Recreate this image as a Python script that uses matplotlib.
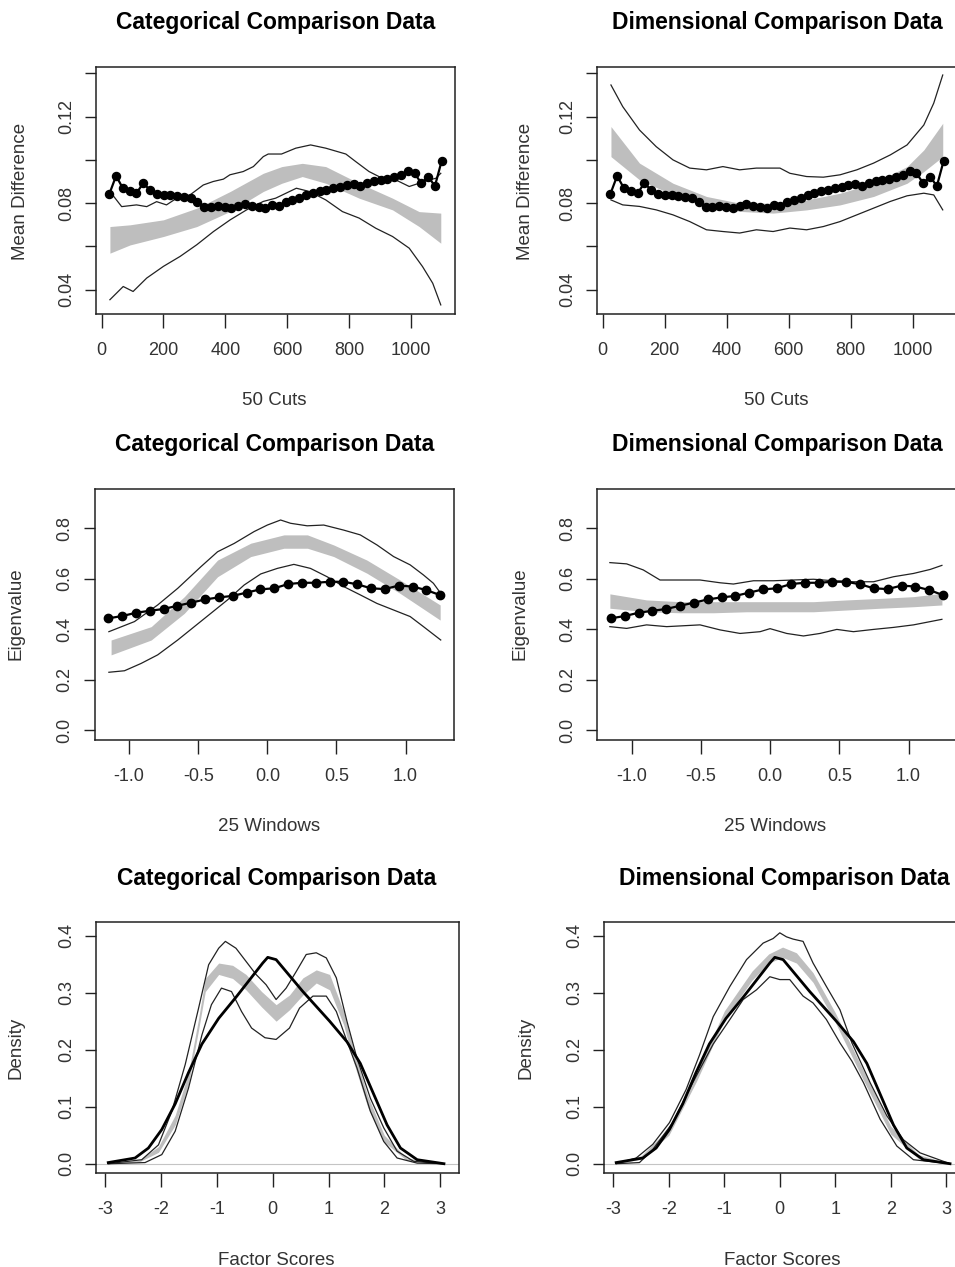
import matplotlib
matplotlib.use("Agg")
import matplotlib.pyplot as plt
import numpy as np

plt.rcParams["font.family"] = ["Liberation Sans", "DejaVu Sans"]
plt.rcParams["axes.unicode_minus"] = False

W, H = 955, 1267

# ---- row 1: mean difference over 50 cuts ----
cuts_x = np.linspace(25, 1100, 50)
cuts_obs = [0.0842, 0.0926, 0.0869, 0.0854, 0.0846, 0.0892, 0.0861, 0.0843, 0.0838, 0.0838,
            0.0835, 0.0830, 0.0823, 0.0807, 0.0784, 0.0784, 0.0788, 0.0781, 0.0777, 0.0788,
            0.0797, 0.0788, 0.0784, 0.0777, 0.0792, 0.0788, 0.0807, 0.0815, 0.0823, 0.0838,
            0.0846, 0.0854, 0.0861, 0.0869, 0.0873, 0.0884, 0.0889, 0.0879, 0.0892, 0.0904,
            0.0907, 0.0911, 0.0923, 0.0931, 0.0950, 0.0938, 0.0892, 0.0923, 0.0879, 0.0996]

cat_cut_hi_x = [27, 65, 113, 146, 178, 210, 243, 286, 329, 361, 394, 415, 458, 491, 523, 539,
                582, 628, 676, 725, 790, 822, 865, 908, 952, 995, 1027, 1059, 1081, 1097]
cat_cut_hi = [0.0854, 0.0784, 0.0792, 0.0784, 0.0807, 0.0792, 0.0823, 0.0838, 0.0884, 0.0900,
              0.0911, 0.0931, 0.0946, 0.0969, 0.1015, 0.1027, 0.1027, 0.1054, 0.1069, 0.1054,
              0.1027, 0.0992, 0.0946, 0.0915, 0.0907, 0.0877, 0.0892, 0.0907, 0.0915, 0.0938]
cat_cut_lo_x = [27, 70, 102, 146, 200, 254, 308, 362, 416, 469, 523, 563, 630, 672, 725,
                779, 833, 887, 941, 995, 1038, 1071, 1097]
cat_cut_lo = [0.0354, 0.0415, 0.0392, 0.0454, 0.0508, 0.0554, 0.0608, 0.0669, 0.0723, 0.0769,
              0.0808, 0.0823, 0.0869, 0.0854, 0.0815, 0.0761, 0.0731, 0.0684, 0.0646, 0.0592,
              0.0507, 0.0430, 0.0330]
cat_cut_band_x = [27, 92, 200, 308, 416, 523, 583, 649, 725, 833, 941, 1027, 1097]
cat_cut_band_hi = [0.0692, 0.0700, 0.0723, 0.0777, 0.0854, 0.0938, 0.0969, 0.0984, 0.0969,
                   0.0892, 0.0823, 0.0761, 0.0754]
cat_cut_band_lo = [0.0569, 0.0607, 0.0646, 0.0692, 0.0762, 0.0854, 0.0892, 0.0923, 0.0892,
                   0.0823, 0.0769, 0.0692, 0.0615]

dim_cut_hi_x = [27, 65, 119, 173, 227, 281, 335, 388, 442, 496, 572, 604, 658, 712, 766, 820,
                874, 928, 982, 1036, 1068, 1097]
dim_cut_hi = [0.1346, 0.1246, 0.1138, 0.1061, 0.1000, 0.0962, 0.0954, 0.0969, 0.0954, 0.0962,
              0.0962, 0.0938, 0.0923, 0.0920, 0.0931, 0.0954, 0.0985, 0.1023, 0.1069, 0.1161,
              0.1262, 0.1392]
dim_cut_lo_x = [27, 65, 119, 173, 227, 281, 335, 388, 442, 496, 550, 604, 658, 712, 766, 820,
                874, 928, 982, 1036, 1068, 1097]
dim_cut_lo = [0.0815, 0.0792, 0.0785, 0.0769, 0.0746, 0.0715, 0.0677, 0.0669, 0.0662, 0.0677,
              0.0669, 0.0685, 0.0677, 0.0692, 0.0715, 0.0746, 0.0777, 0.0808, 0.0834, 0.0846,
              0.0838, 0.0769]
dim_cut_band_x = [27, 119, 227, 335, 442, 550, 658, 766, 874, 982, 1036, 1097]
dim_cut_band_hi = [0.1154, 0.0985, 0.0892, 0.0831, 0.0800, 0.0800, 0.0815, 0.0846, 0.0892,
                   0.0969, 0.1046, 0.1169]
dim_cut_band_lo = [0.1015, 0.0908, 0.0838, 0.0792, 0.0762, 0.0754, 0.0769, 0.0792, 0.0831,
                   0.0892, 0.0946, 0.1015]

# ---- row 2: eigenvalue over 25 windows ----
win_x = np.linspace(-1.15, 1.25, 25)
win_obs = [0.443, 0.452, 0.465, 0.473, 0.480, 0.493, 0.505, 0.518, 0.526, 0.532, 0.545, 0.558,
           0.562, 0.579, 0.584, 0.584, 0.588, 0.588, 0.578, 0.562, 0.559, 0.573, 0.569, 0.555,
           0.535]

cat_win_hi_x = [-1.146, -0.961, -0.793, -0.648, -0.48, -0.36, -0.24, -0.096, 0.0, 0.096, 0.168,
                0.288, 0.408, 0.552, 0.672, 0.793, 0.913, 1.033, 1.129, 1.201, 1.254]
cat_win_hi = [0.390, 0.430, 0.496, 0.562, 0.648, 0.707, 0.740, 0.787, 0.813, 0.833, 0.820,
              0.810, 0.813, 0.793, 0.774, 0.734, 0.688, 0.655, 0.615, 0.582, 0.542]
cat_win_lo_x = [-1.146, -1.033, -0.913, -0.793, -0.648, -0.528, -0.408, -0.288, -0.168, -0.048,
                0.072, 0.192, 0.312, 0.432, 0.552, 0.672, 0.793, 0.913, 1.033, 1.129, 1.254]
cat_win_lo = [0.229, 0.235, 0.264, 0.298, 0.357, 0.410, 0.463, 0.516, 0.575, 0.619, 0.641,
              0.657, 0.641, 0.608, 0.569, 0.536, 0.502, 0.476, 0.450, 0.410, 0.357]
cat_win_band_x = [-1.13, -0.84, -0.60, -0.36, -0.12, 0.12, 0.29, 0.48, 0.72, 0.96, 1.25]
cat_win_band_hi = [0.357, 0.410, 0.529, 0.674, 0.741, 0.774, 0.774, 0.734, 0.674, 0.595, 0.496]
cat_win_band_lo = [0.298, 0.357, 0.463, 0.608, 0.688, 0.721, 0.721, 0.688, 0.622, 0.542, 0.436]

dim_win_hi_x = [-1.157, -1.036, -0.916, -0.795, -0.65, -0.506, -0.361, -0.265, -0.12, 0.024,
                0.169, 0.313, 0.458, 0.602, 0.747, 0.892, 1.036, 1.157, 1.241]
dim_win_hi = [0.664, 0.659, 0.635, 0.595, 0.595, 0.595, 0.584, 0.579, 0.592, 0.592, 0.595,
              0.598, 0.592, 0.588, 0.588, 0.608, 0.621, 0.637, 0.653]
dim_win_lo_x = [-1.157, -1.036, -0.892, -0.747, -0.506, -0.361, -0.217, -0.072, 0.0, 0.120,
                0.241, 0.361, 0.482, 0.602, 0.747, 0.892, 1.036, 1.157, 1.241]
dim_win_lo = [0.410, 0.403, 0.417, 0.410, 0.417, 0.397, 0.383, 0.390, 0.402, 0.383, 0.373,
              0.383, 0.399, 0.390, 0.399, 0.407, 0.417, 0.430, 0.439]
dim_win_band_x = [-1.157, -0.892, -0.65, -0.41, -0.169, 0.072, 0.313, 0.554, 0.795, 1.036, 1.241]
dim_win_band_hi = [0.540, 0.516, 0.509, 0.509, 0.509, 0.509, 0.509, 0.516, 0.522, 0.529, 0.542]
dim_win_band_lo = [0.483, 0.469, 0.465, 0.465, 0.469, 0.469, 0.469, 0.476, 0.483, 0.489, 0.496]

# ---- row 3: density of factor scores ----
dens_x = [-2.95, -2.47, -2.23, -1.99, -1.75, -1.51, -1.27, -0.97, -0.66, -0.42, -0.18, -0.09,
          0.06, 0.3, 0.54, 0.78, 1.02, 1.33, 1.57, 1.81, 2.05, 2.29, 2.59, 3.07]
dens_obs = [0.002, 0.010, 0.0275, 0.060, 0.105, 0.160, 0.210, 0.255, 0.292, 0.322, 0.352,
            0.362, 0.358, 0.330, 0.302, 0.276, 0.250, 0.214, 0.176, 0.122, 0.068, 0.0275,
            0.007, 0.0]

cat_den_hi_x = [-2.95, -2.35, -2.05, -1.81, -1.57, -1.33, -1.15, -0.97, -0.85, -0.66, -0.48,
                -0.30, -0.12, 0.06, 0.24, 0.42, 0.60, 0.78, 0.96, 1.14, 1.33, 1.51, 1.75, 1.99,
                2.23, 2.53, 3.07]
cat_den_hi = [0.0, 0.007, 0.033, 0.092, 0.174, 0.273, 0.349, 0.378, 0.390, 0.378, 0.355, 0.332,
              0.314, 0.288, 0.308, 0.337, 0.367, 0.370, 0.361, 0.326, 0.250, 0.185, 0.115,
              0.063, 0.022, 0.004, 0.0]
cat_den_lo_x = [-2.95, -2.29, -1.99, -1.75, -1.51, -1.27, -1.10, -0.92, -0.74, -0.56, -0.38,
                -0.14, 0.06, 0.30, 0.48, 0.72, 0.96, 1.14, 1.33, 1.51, 1.75, 1.99, 2.23, 2.59,
                3.07]
cat_den_lo = [0.0, 0.002, 0.016, 0.057, 0.133, 0.226, 0.279, 0.308, 0.302, 0.267, 0.238, 0.221,
              0.218, 0.238, 0.273, 0.294, 0.294, 0.267, 0.215, 0.168, 0.092, 0.039, 0.010,
              0.001, 0.0]
cat_den_band_x = [-2.95, -2.4, -2.05, -1.75, -1.51, -1.33, -1.21, -0.97, -0.72, -0.48, -0.2,
                  0.06, 0.3, 0.54, 0.78, 1.02, 1.27, 1.45, 1.7, 2.0, 2.4, 3.07]
cat_den_band_hi = [0.0, 0.006, 0.030, 0.085, 0.160, 0.255, 0.325, 0.352, 0.348, 0.332, 0.302,
                   0.279, 0.296, 0.326, 0.340, 0.332, 0.267, 0.200, 0.120, 0.050, 0.010, 0.0]
cat_den_band_lo = [0.0, 0.003, 0.020, 0.068, 0.140, 0.235, 0.302, 0.332, 0.325, 0.305, 0.275,
                   0.250, 0.270, 0.296, 0.317, 0.305, 0.244, 0.178, 0.100, 0.038, 0.006, 0.0]

dim_den_hi_x = [-2.95, -2.59, -2.29, -1.99, -1.69, -1.45, -1.2, -0.9, -0.6, -0.3, -0.12, 0.0,
                0.12, 0.24, 0.42, 0.6, 0.84, 1.085, 1.3, 1.63, 1.93, 2.23, 2.53, 3.07]
dim_den_hi = [0.0, 0.010, 0.034, 0.072, 0.130, 0.190, 0.258, 0.311, 0.358, 0.387, 0.395, 0.405,
              0.398, 0.394, 0.390, 0.352, 0.311, 0.270, 0.212, 0.142, 0.084, 0.042, 0.019, 0.0]
dim_den_lo_x = [-2.95, -2.53, -2.29, -1.93, -1.57, -1.2, -0.9, -0.66, -0.42, -0.18, 0.0, 0.18,
                0.42, 0.6, 0.84, 1.085, 1.3, 1.51, 1.81, 2.11, 2.41, 3.07]
dim_den_lo = [0.0, 0.002, 0.025, 0.072, 0.142, 0.210, 0.253, 0.288, 0.305, 0.328, 0.323, 0.323,
              0.294, 0.282, 0.253, 0.212, 0.180, 0.142, 0.078, 0.031, 0.007, 0.0]
dim_den_band_x = [-2.95, -2.5, -2.0, -1.5, -1.0, -0.5, -0.2, 0.05, 0.3, 0.6, 1.0, 1.5, 2.0, 2.5,
                  3.07]
dim_den_band_hi = [0.0, 0.014, 0.062, 0.160, 0.268, 0.338, 0.368, 0.380, 0.370, 0.335, 0.265,
                   0.165, 0.066, 0.016, 0.0]
dim_den_band_lo = [0.0, 0.008, 0.050, 0.145, 0.252, 0.322, 0.352, 0.362, 0.352, 0.318, 0.248,
                   0.148, 0.052, 0.009, 0.0]

titles = ["Categorical Comparison Data", "Dimensional Comparison Data"]
GRAY = "#bebebe"
INK = "#222222"
TXT = "#333333"

fig = plt.figure(figsize=(W / 100, H / 100), dpi=100)


def add_panel(left, right, top, bottom):
    ax = fig.add_axes([left / W, 1 - bottom / H, (right - left) / W, (bottom - top) / H])
    for s in ax.spines.values():
        s.set_color(INK)
        s.set_linewidth(1.1)
    ax.tick_params(axis="x", direction="out", length=10, width=1, color=INK,
                   pad=10, labelsize=13, labelcolor=TXT)
    ax.tick_params(axis="y", direction="out", length=8, width=1, color=INK,
                   pad=7, labelsize=13, labelcolor=TXT, labelrotation=90)
    return ax


def px_text(x, y, s, **kw):
    fig.text(x / W, 1 - y / H, s, **kw)


def envelope(ax, bx, blo, bhi, lx, lo, hx, hi):
    ax.fill_between(bx, blo, bhi, color=GRAY, lw=0, zorder=1)
    ax.plot(lx, lo, color=INK, lw=0.9, zorder=2)
    ax.plot(hx, hi, color=INK, lw=0.9, zorder=2)


# row 1
boxes1 = [(96, 455, 67, 314), (597, 957, 67, 314)]
env1 = [(cat_cut_band_x, cat_cut_band_lo, cat_cut_band_hi, cat_cut_lo_x, cat_cut_lo,
         cat_cut_hi_x, cat_cut_hi),
        (dim_cut_band_x, dim_cut_band_lo, dim_cut_band_hi, dim_cut_lo_x, dim_cut_lo,
         dim_cut_hi_x, dim_cut_hi)]
for box, env in zip(boxes1, env1):
    ax = add_panel(*box)
    envelope(ax, *env)
    ax.plot(cuts_x, cuts_obs, color="black", lw=1.6, marker="o", ms=5.8, zorder=3)
    ax.set_xlim(-18, 1143)
    ax.set_ylim(0.0288, 0.1429)
    ax.set_xticks([0, 200, 400, 600, 800, 1000])
    ax.set_yticks([0.04, 0.06, 0.08, 0.10, 0.12, 0.14])
    ax.set_yticklabels(["0.04", "", "0.08", "", "0.12", ""], va="center")

# row 2
boxes2 = [(94.5, 454, 489, 740), (597, 957, 489, 740)]
env2 = [(cat_win_band_x, cat_win_band_lo, cat_win_band_hi, cat_win_lo_x, cat_win_lo,
         cat_win_hi_x, cat_win_hi),
        (dim_win_band_x, dim_win_band_lo, dim_win_band_hi, dim_win_lo_x, dim_win_lo,
         dim_win_hi_x, dim_win_hi)]
for box, env in zip(boxes2, env2):
    ax = add_panel(*box)
    envelope(ax, *env)
    ax.plot(win_x, win_obs, color="black", lw=1.6, marker="o", ms=6, zorder=3)
    ax.set_xlim(-1.25, 1.35)
    ax.set_ylim(-0.0397, 0.956)
    ax.set_xticks([-1.0, -0.5, 0.0, 0.5, 1.0])
    ax.set_xticklabels(["-1.0", "-0.5", "0.0", "0.5", "1.0"])
    ax.set_yticks([0.0, 0.2, 0.4, 0.6, 0.8])
    ax.set_yticklabels(["0.0", "0.2", "0.4", "0.6", "0.8"], va="center")

# row 3
boxes3 = [(96, 459, 922, 1173), (604, 965, 922, 1173)]
env3 = [(cat_den_band_x, cat_den_band_lo, cat_den_band_hi, cat_den_lo_x, cat_den_lo,
         cat_den_hi_x, cat_den_hi),
        (dim_den_band_x, dim_den_band_lo, dim_den_band_hi, dim_den_lo_x, dim_den_lo,
         dim_den_hi_x, dim_den_hi)]
for box, env in zip(boxes3, env3):
    ax = add_panel(*box)
    ax.axhline(0, color="#c4c4c4", lw=0.8, zorder=0)
    envelope(ax, *env)
    ax.plot(dens_x, dens_obs, color="black", lw=2.0, zorder=3)
    ax.set_xlim(-3.17, 3.34)
    ax.set_ylim(-0.0163, 0.424)
    ax.set_xticks([-3, -2, -1, 0, 1, 2, 3])
    ax.set_yticks([0.0, 0.1, 0.2, 0.3, 0.4])
    ax.set_yticklabels(["0.0", "0.1", "0.2", "0.3", "0.4"], va="center")

# titles
for (x, y), col in zip([(275.5, 23), (777, 23), (274.5, 445), (777, 445), (277, 878),
                        (784.5, 878)], [0, 1, 0, 1, 0, 1]):
    px_text(x, y, titles[col], ha="center", va="center", fontsize=16.5, fontweight="bold",
            color="black")

# x labels (baseline positions)
xl = [("50 Cuts", 274, 405), ("50 Cuts", 776, 405), ("25 Windows", 269, 831),
      ("25 Windows", 775, 831), ("Factor Scores", 276, 1265), ("Factor Scores", 782.5, 1265)]
for s, x, y in xl:
    px_text(x, y, s, ha="center", va="baseline", fontsize=13.5, color=TXT)

# y labels (rotated, baseline on the right)
yl = [("Mean Difference", 25, 191), ("Mean Difference", 530, 191), ("Eigenvalue", 20, 614),
      ("Eigenvalue", 525, 614), ("Density", 20, 1048), ("Density", 530, 1048)]
for s, x, y in yl:
    px_text(x, y, s, ha="center", va="baseline", rotation=90, rotation_mode="anchor",
            fontsize=13.5, color=TXT)

fig.savefig("out.png", dpi=100)
